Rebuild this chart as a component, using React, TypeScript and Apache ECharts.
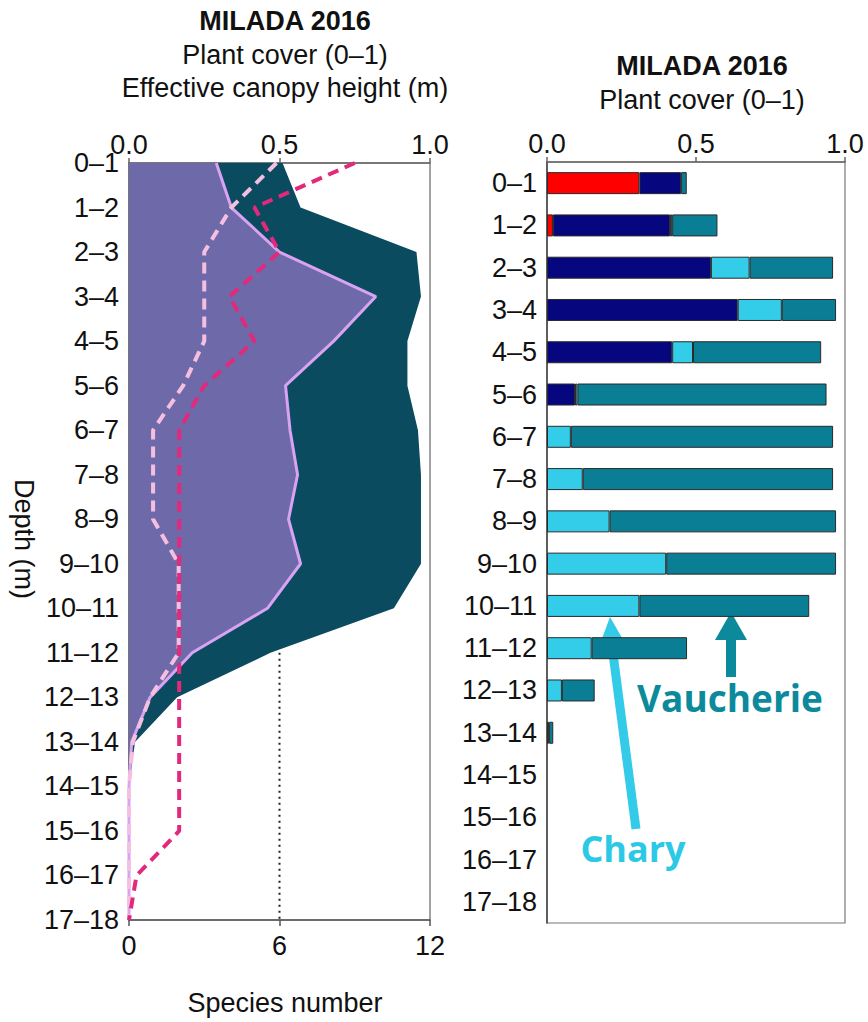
import React, { useEffect, useRef } from "react";
import * as echarts from "echarts";

// Depth intervals (m), shared by both panels
const depthLabels = [
  "0–1", "1–2", "2–3", "3–4", "4–5", "5–6", "6–7", "7–8", "8–9",
  "9–10", "10–11", "11–12", "12–13", "13–14", "14–15", "15–16", "16–17", "17–18",
];

// Left panel: plant cover (0–1), effective canopy height (m), species number
const totalCover = [0.51, 0.57, 0.955, 0.97, 0.925, 0.925, 0.96, 0.97, 0.97, 0.97, 0.88, 0.47, 0.16, 0.02, 0, 0, 0, 0];
const innerCover = [0.29, 0.34, 0.5, 0.82, 0.68, 0.52, 0.535, 0.56, 0.53, 0.57, 0.46, 0.21, 0.07, 0.009, 0, 0, 0, 0];
const canopyHeight = [0.49, 0.34, 0.25, 0.25, 0.25, 0.18, 0.08, 0.08, 0.08, 0.165, 0.165, 0.165, 0.07, 0.013, 0, 0, 0, 0];
const speciesNumber = [9, 5, 6, 4, 5, 3, 2, 2, 2, 2, 2, 2, 2, 2, 2, 2, 0.3, 0];
const speciesRef = 6;
const speciesRefFrom = "11–12";
const speciesRefTo = "17–18";

// Right panel: stacked plant cover (0–1) by group
const emergentCover = [0.31, 0.02, 0, 0, 0, 0, 0, 0, 0, 0, 0, 0, 0, 0, 0, 0, 0, 0];
const submergedCover = [0.14, 0.393, 0.55, 0.64, 0.42, 0.094, 0, 0, 0, 0, 0, 0, 0, 0, 0, 0, 0, 0];
const charaCover = [0, 0.007, 0.13, 0.148, 0.07, 0.008, 0.08, 0.12, 0.21, 0.4, 0.31, 0.15, 0.05, 0.007, 0, 0, 0, 0];
const vaucheriaCover = [0.019, 0.152, 0.28, 0.182, 0.43, 0.836, 0.88, 0.84, 0.76, 0.57, 0.57, 0.32, 0.11, 0.014, 0, 0, 0, 0];

const FONT = '"Liberation Sans", Arial, Helvetica, sans-serif';
const LABEL_SIZE = 27;
const TEXT = "#111";

const pairs = (vals: number[]) => depthLabels.map((d, i) => [vals[i], d]);
const barData = (vals: number[]) => vals.map((v) => (v > 0 ? v : "-"));

const axisLabelStyle = { fontSize: LABEL_SIZE, fontFamily: FONT, color: TEXT };

function buildOption() {
  const barSeries = [
    { name: "Emergent", color: "#ff0000", vals: emergentCover },
    { name: "Submerged", color: "#06067e", vals: submergedCover },
    { name: "Chara", color: "#33cdea", vals: charaCover },
    { name: "Vaucheria", color: "#0a7e95", vals: vaucheriaCover },
  ].map((s) => ({
    type: "bar",
    name: s.name,
    xAxisIndex: 2,
    yAxisIndex: 1,
    stack: "cover",
    barWidth: 22,
    data: barData(s.vals),
    itemStyle: { color: s.color, borderColor: "#2a2a2a", borderWidth: 1 },
    silent: true,
  }));

  const title = (x: number, y: number, text: string, bold = false) => ({
    type: "text",
    x,
    y,
    style: {
      text,
      align: "center",
      verticalAlign: "middle",
      fill: TEXT,
      font: `${bold ? "bold " : ""}${LABEL_SIZE}px ${FONT}`,
    },
  });

  return {
    animation: false,
    backgroundColor: "#ffffff",
    grid: [
      { left: 129, top: 163, width: 301, height: 757, show: true, borderColor: "#666", borderWidth: 1.2, backgroundColor: "transparent" },
      { left: 547, top: 162, width: 298, height: 761, show: true, borderColor: "#777", borderWidth: 1.2, backgroundColor: "transparent" },
    ],
    xAxis: [
      {
        gridIndex: 0, type: "value", position: "bottom", min: 0, max: 12, interval: 6,
        axisLine: { show: true, lineStyle: { color: "#555", width: 1.5 } },
        axisTick: { show: true, length: 6, lineStyle: { color: "#555", width: 1.5 } },
        axisLabel: { ...axisLabelStyle, margin: 12 },
        splitLine: { show: false },
      },
      {
        gridIndex: 0, type: "value", position: "top", min: 0, max: 1, interval: 0.5,
        axisLine: { show: true, lineStyle: { color: "#666", width: 1.5 } },
        axisTick: { show: true, length: 5, lineStyle: { color: "#666", width: 1.5 } },
        axisLabel: { ...axisLabelStyle, margin: 5, formatter: (v: number) => v.toFixed(1) },
        splitLine: { show: false },
      },
      {
        gridIndex: 1, type: "value", position: "top", min: 0, max: 1, interval: 0.5,
        axisLine: { show: true, lineStyle: { color: "#666", width: 1.5 } },
        axisTick: { show: true, length: 5, lineStyle: { color: "#666", width: 1.5 } },
        axisLabel: { ...axisLabelStyle, margin: 5, formatter: (v: number) => v.toFixed(1) },
        splitLine: { show: false },
      },
    ],
    yAxis: [
      {
        gridIndex: 0, type: "category", data: depthLabels, inverse: true, boundaryGap: false,
        axisLine: { show: true, lineStyle: { color: "#666", width: 1.5 } },
        axisTick: { show: false },
        axisLabel: { ...axisLabelStyle, margin: 10, interval: 0 },
        splitLine: { show: false },
      },
      {
        gridIndex: 1, type: "category", data: depthLabels, inverse: true, boundaryGap: true,
        axisLine: { show: true, lineStyle: { color: "#444", width: 1.5 } },
        axisTick: { show: false },
        axisLabel: { ...axisLabelStyle, margin: 10, interval: 0 },
        splitLine: { show: false },
      },
    ],
    series: [
      {
        type: "line", name: "Total cover", xAxisIndex: 1, yAxisIndex: 0,
        data: pairs(totalCover), symbol: "none", silent: true, z: 1,
        lineStyle: { width: 0, color: "#0b4b5f" },
        areaStyle: { color: "#0b4b5f", opacity: 1 },
      },
      {
        type: "line", name: "Cover", xAxisIndex: 1, yAxisIndex: 0,
        data: pairs(innerCover), symbol: "none", silent: true, z: 2,
        lineStyle: { width: 3, color: "#d9a3f2" },
        areaStyle: { color: "#6e6aa9", opacity: 1 },
      },
      {
        type: "line", name: "Effective canopy height", xAxisIndex: 1, yAxisIndex: 0,
        data: pairs(canopyHeight), symbol: "none", silent: true, z: 3,
        lineStyle: { width: 4, color: "#f5c0df", type: [11, 7] },
      },
      {
        type: "line", name: "Species number", xAxisIndex: 0, yAxisIndex: 0,
        data: pairs(speciesNumber), symbol: "none", silent: true, z: 4,
        lineStyle: { width: 4, color: "#e2297c", type: [11, 7] },
      },
      {
        type: "line", name: "Species reference", xAxisIndex: 0, yAxisIndex: 0,
        data: [[speciesRef, speciesRefFrom], [speciesRef, speciesRefTo]],
        symbol: "none", silent: true, z: 4,
        lineStyle: { width: 2, color: "#222", type: [2, 4] },
      },
      ...barSeries,
    ],
    graphic: [
      title(285, 21, "MILADA 2016", true),
      title(285, 55, "Plant cover (0–1)"),
      title(285, 88, "Effective canopy height (m)"),
      title(702, 66, "MILADA 2016", true),
      title(702, 100, "Plant cover (0–1)"),
      {
        type: "text", x: 24, y: 539, rotation: -Math.PI / 2,
        style: { text: "Depth (m)", align: "center", verticalAlign: "middle", fill: TEXT, font: `${LABEL_SIZE}px ${FONT}` },
      },
      title(285, 1003, "Species number"),
      // Chara arrow and label
      { type: "line", shape: { x1: 636, y1: 829, x2: 612, y2: 646 }, style: { stroke: "#33cbe8", lineWidth: 9 } },
      { type: "polygon", shape: { points: [[597, 652], [629, 650], [610, 617]] }, style: { fill: "#33cbe8" } },
      {
        type: "text", x: 633, y: 848,
        style: { text: "Chary", align: "center", verticalAlign: "middle", fill: "#2cc9e6", font: 'bold 36px "Open Sans", "Noto Sans", sans-serif' },
      },
      // Vaucheria arrow and label
      { type: "line", shape: { x1: 731, y1: 677, x2: 731, y2: 636 }, style: { stroke: "#0c8a9b", lineWidth: 10 } },
      { type: "polygon", shape: { points: [[715, 640], [747, 640], [731, 612]] }, style: { fill: "#0c8a9b" } },
      {
        type: "text", x: 730, y: 697,
        style: { text: "Vaucherie", align: "center", verticalAlign: "middle", fill: "#0c8a9b", font: 'bold 37px "Open Sans", "Noto Sans", sans-serif' },
      },
    ],
  };
}

export default function App() {
  const ref = useRef<HTMLDivElement>(null);
  useEffect(() => {
    if (!ref.current) return;
    const chart = echarts.init(ref.current, null, { renderer: "svg" });
    chart.setOption(buildOption() as any);
    return () => chart.dispose();
  }, []);
  return (
    <div
      ref={ref}
      style={{ position: "fixed", left: 0, top: 0, width: 868, height: 1022, background: "#fff" }}
    />
  );
}
